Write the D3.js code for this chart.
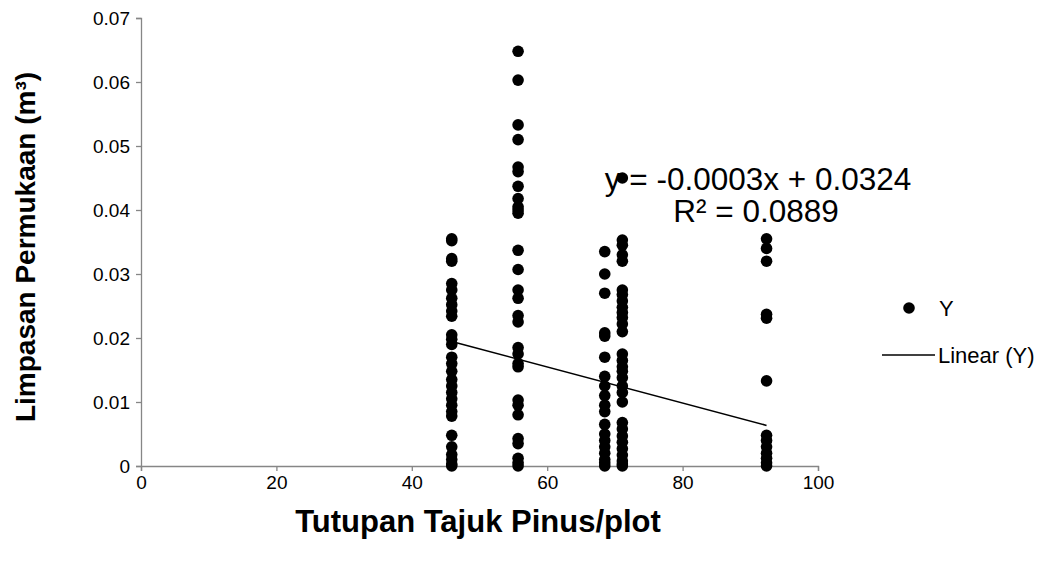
<!DOCTYPE html>
<html>
<head>
<meta charset="utf-8">
<script src="https://cdn.jsdelivr.net/npm/d3@7"></script>
<style>
  html, body { margin: 0; padding: 0; background: #fff; }
  svg { display: block; }
  text { font-family: "Liberation Sans", Arial, sans-serif; fill: #000; }
</style>
</head>
<body>
<svg id="chart" width="1048" height="563"></svg>
<script>
// Canopy cover per plot (%) and surface runoff observations (m³) at each cover level
const coverLevels = [45.9, 55.7, 68.5, 71.1, 92.4];

const runoffAt459 = [0.0355, 0.0352, 0.0324, 0.0320, 0.0285, 0.0275, 0.0262, 0.0252, 0.0242, 0.0234,
  0.0205, 0.0198, 0.0190, 0.0170, 0.0160, 0.0148, 0.0135, 0.0125, 0.0115, 0.0105,
  0.0095, 0.0085, 0.0078, 0.0048, 0.0030, 0.0018, 0.0010, 0.0003, 0.0000];
const runoffAt557 = [0.0648, 0.0603, 0.0533, 0.0510, 0.0467, 0.0460, 0.0437, 0.0418, 0.0405, 0.0400,
  0.0395, 0.0337, 0.0307, 0.0275, 0.0262, 0.0235, 0.0225, 0.0185, 0.0175, 0.0160,
  0.0155, 0.0103, 0.0095, 0.0080, 0.0043, 0.0035, 0.0012, 0.0005, 0.0000];
const runoffAt685 = [0.0335, 0.0300, 0.0270, 0.0208, 0.0203, 0.0170, 0.0140, 0.0125, 0.0110, 0.0095,
  0.0085, 0.0065, 0.0050, 0.0040, 0.0030, 0.0020, 0.0010, 0.0005, 0.0000];
const runoffAt711 = [0.0450, 0.0353, 0.0345, 0.0330, 0.0320, 0.0275, 0.0268, 0.0258, 0.0248, 0.0240,
  0.0232, 0.0222, 0.0210, 0.0175, 0.0165, 0.0155, 0.0148, 0.0138, 0.0125, 0.0115,
  0.0100, 0.0068, 0.0058, 0.0047, 0.0037, 0.0027, 0.0017, 0.0008, 0.0003, 0.0000];
const runoffAt924 = [0.0355, 0.0340, 0.0320, 0.0237, 0.0231, 0.0133, 0.0048, 0.0040, 0.0030, 0.0020,
  0.0012, 0.0005, 0.0000];

const runoffGroups = [runoffAt459, runoffAt557, runoffAt685, runoffAt711, runoffAt924];

// Linear trend fitted to the observations
const trendSlope = -0.000282;
const trendIntercept = 0.0324;
const rSquared = 0.0889;

const xTicks = [0, 20, 40, 60, 80, 100];
const yTicks = [0, 0.01, 0.02, 0.03, 0.04, 0.05, 0.06, 0.07];

const points = [];
coverLevels.forEach((c, i) => runoffGroups[i].forEach(v => points.push({ x: c, y: v })));

const svg = d3.select("#chart");
const plot = { left: 141, right: 818, top: 18, bottom: 466 };

const x = d3.scaleLinear().domain([0, 100]).range([plot.left, plot.right]);
const y = d3.scaleLinear().domain([0, 0.07]).range([plot.bottom, plot.top]);

const axisColor = "#868686";
const tickFont = 19;

// Y axis
const yAxis = svg.append("g")
  .attr("transform", `translate(${plot.left},0)`)
  .call(d3.axisLeft(y).tickValues(yTicks).tickSize(5).tickPadding(6)
    .tickFormat(d => d === 0 ? "0" : d3.format(".2f")(d)));
yAxis.select(".domain").attr("stroke", axisColor).attr("stroke-width", 1.3);
yAxis.selectAll(".tick line").attr("stroke", axisColor).attr("stroke-width", 1.3);
yAxis.selectAll(".tick text").attr("font-size", tickFont).attr("fill", "#000")
  .attr("font-family", "Liberation Sans, Arial, sans-serif");

// X axis
const xAxis = svg.append("g")
  .attr("transform", `translate(0,${plot.bottom})`)
  .call(d3.axisBottom(x).tickValues(xTicks).tickSize(5).tickPadding(5));
xAxis.select(".domain").attr("stroke", axisColor).attr("stroke-width", 1.3);
xAxis.selectAll(".tick line").attr("stroke", axisColor).attr("stroke-width", 1.3);
xAxis.selectAll(".tick text").attr("font-size", tickFont).attr("fill", "#000")
  .attr("font-family", "Liberation Sans, Arial, sans-serif");

// Trend line across the observed cover range
const [xMin, xMax] = d3.extent(coverLevels);
svg.append("line")
  .attr("x1", x(xMin)).attr("y1", y(trendSlope * xMin + trendIntercept))
  .attr("x2", x(xMax)).attr("y2", y(trendSlope * xMax + trendIntercept))
  .attr("stroke", "#000").attr("stroke-width", 1.6);

// Observations
svg.append("g").selectAll("circle")
  .data(points)
  .join("circle")
  .attr("cx", d => x(d.x))
  .attr("cy", d => y(d.y))
  .attr("r", 5.8)
  .attr("fill", "#000");

// Regression equation and R²
const fmt4 = v => d3.format(".4f")(v).replace("\u2212", "-");
const eqText = `y = ${fmt4(trendSlope)}x + ${fmt4(trendIntercept)}`;
svg.append("text")
  .attr("x", 758).attr("y", 190)
  .attr("text-anchor", "middle")
  .attr("font-size", 31.5)
  .text(eqText);
svg.append("text")
  .attr("x", 756).attr("y", 222)
  .attr("text-anchor", "middle")
  .attr("font-size", 31.5)
  .text(`R² = ${rSquared}`);

// Axis titles
svg.append("text")
  .attr("transform", `translate(35,247) rotate(-90)`)
  .attr("text-anchor", "middle")
  .attr("font-size", 28)
  .attr("font-weight", "bold")
  .text("Limpasan Permukaan (m³)");
svg.append("text")
  .attr("x", 478).attr("y", 532)
  .attr("text-anchor", "middle")
  .attr("font-size", 31)
  .attr("font-weight", "bold")
  .text("Tutupan Tajuk Pinus/plot");

// Legend
const legendFont = "Lato, 'Open Sans', sans-serif";
const legend = svg.append("g");
legend.append("circle").attr("cx", 909).attr("cy", 308).attr("r", 5.8).attr("fill", "#000");
legend.append("text").attr("x", 939).attr("y", 316).attr("font-size", 22)
  .attr("font-family", legendFont).text("Y");
legend.append("line").attr("x1", 882).attr("x2", 935).attr("y1", 355).attr("y2", 355)
  .attr("stroke", "#000").attr("stroke-width", 1.6);
legend.append("text").attr("x", 938).attr("y", 363).attr("font-size", 22)
  .attr("font-family", legendFont).text("Linear (Y)");
</script>
</body>
</html>
